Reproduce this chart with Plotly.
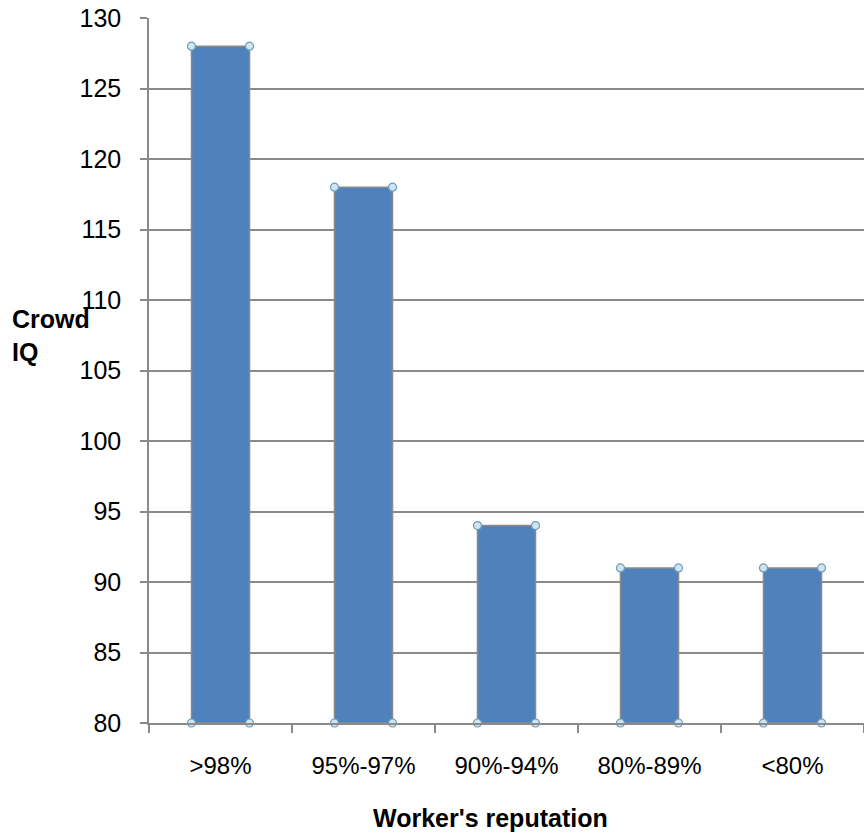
import plotly.graph_objects as go

categories = [">98%", "95%-97%", "90%-94%", "80%-89%", "<80%"]
crowd_iq = [128, 118, 94, 91, 91]
y_ticks = [80, 85, 90, 95, 100, 105, 110, 115, 120, 125, 130]

base = 80
half_w = 0.203  # half of the bar width in category units
xs = list(range(len(categories)))

fig = go.Figure()
fig.add_trace(go.Bar(
    x=xs, y=[v - base for v in crowd_iq], base=base,
    width=2 * half_w,
    marker=dict(color="#4F81BD", line=dict(color="#8a8a8a", width=1.5)),
    showlegend=False, hoverinfo="skip",
))

# corner handles on each bar
hx, hy = [], []
for x, v in zip(xs, crowd_iq):
    for dx in (-half_w, half_w):
        for yy in (base, v):
            hx.append(x + dx)
            hy.append(yy)
fig.add_trace(go.Scatter(
    x=hx, y=hy, mode="markers", cliponaxis=False,
    marker=dict(size=8, color="#cfe6f0", line=dict(color="#6e9cbc", width=1.2)),
    showlegend=False, hoverinfo="skip",
))

font = "Liberation Sans, Arial"

fig.update_layout(
    width=864, height=835,
    margin=dict(l=149, r=0, t=18, b=112),
    paper_bgcolor="white", plot_bgcolor="white",
    xaxis=dict(
        range=[-0.5, 4.5], tickvals=xs, ticktext=categories,
        ticks="", showgrid=False, zeroline=False,
        showline=True, linecolor="#8a8a8a", linewidth=1.5,
        tickfont=dict(family=font, size=24, color="black"),
        ticklabelstandoff=20,
        minor=dict(tickvals=[i - 0.5 for i in range(len(categories) + 1)],
                   ticks="outside", ticklen=8, tickcolor="#8a8a8a", tickwidth=1.5),
    ),
    yaxis=dict(
        range=[80, 130], tickvals=y_ticks,
        ticks="outside", ticklen=7, tickcolor="#8a8a8a", tickwidth=1.5,
        showgrid=True, gridcolor="#8a8a8a", gridwidth=1.5, zeroline=False,
        showline=True, linecolor="#8a8a8a", linewidth=1.5,
        tickfont=dict(family=font, size=25, color="black"),
        ticklabelstandoff=14,
    ),
    annotations=[
        dict(text="<b>Crowd<br>IQ</b>", x=0, y=0, xref="paper", yref="paper",
             showarrow=False, align="left", xanchor="left", yanchor="middle",
             font=dict(family=font, size=25, color="black")),
        dict(text="<b>Worker's reputation</b>", x=0.5, y=0,
             xref="paper", yref="paper", showarrow=False,
             xanchor="center", yanchor="middle",
             font=dict(family=font, size=25, color="black")),
    ],
)

# place the axis titles in pixel terms of the figure
plot_w = 864 - 149
plot_h = 835 - 18 - 112
fig.layout.annotations[0].update(
    x=(10 - 149) / plot_w, y=(835 - 112 - 335) / plot_h,
)
fig.layout.annotations[1].update(
    x=(490 - 149) / plot_w, y=(835 - 112 - 818) / plot_h,
)

fig.write_html("out.html")
